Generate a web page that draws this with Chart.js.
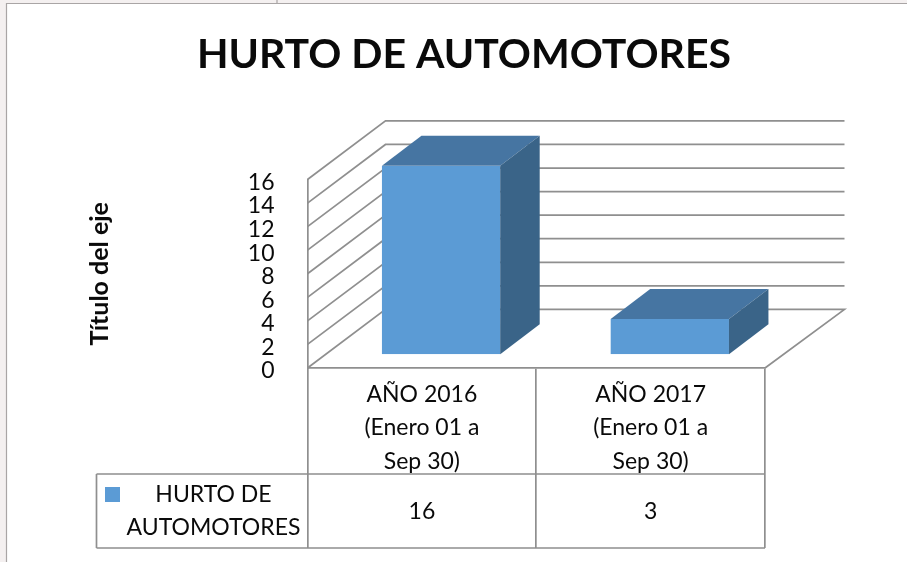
<!DOCTYPE html>
<html><head><meta charset="utf-8">
<script src="https://cdn.jsdelivr.net/npm/chart.js@4"></script>
<style>html,body{margin:0;padding:0;background:#fff}canvas{display:block}</style>
</head><body>
<div style="width:907px;height:562px"><canvas id="c" width="907" height="562"></canvas></div>
<script>
const chartTitle = "HURTO DE AUTOMOTORES";
const categories = [["AÑO 2016","(Enero 01 a","Sep 30)"],["AÑO 2017","(Enero 01 a","Sep 30)"]];
const seriesNameLines = ["HURTO DE","AUTOMOTORES"];
const seriesValues = [16,3];
const yTickStep = 2, yMax = 16;
const axisTitle = "Título del eje";

const FONT = "Lato, Carlito, sans-serif";
const TEXT = "#0a0a0a", LINE = "#8f8f8f";
const FRONT = "#5B9BD5", TOP = "#4675A2", SIDE = "#3A6488";
const WALL = {dx:78, dxRight:79.5, dy:-58.6}, BAR = {dx:19.2, dy:-13.7, ddx:39.5, ddy:-30};

const threeD = {
  id:"threeD",
  beforeDraw(ch){
    const c = ch.ctx;
    c.save();
    c.fillStyle="#f4f0f0"; c.fillRect(0,0,907,562);
    c.fillStyle="#fff"; c.fillRect(7,4,900,558);
    c.strokeStyle="#a9a5a5"; c.lineWidth=1.2;
    c.beginPath(); c.moveTo(6.5,562); c.lineTo(6.5,3.5); c.lineTo(907,3.5);
    c.moveTo(277,0); c.lineTo(277,3); c.stroke();
    c.restore();
  },
  beforeDatasetsDraw(ch){
    const c = ch.ctx, y = ch.scales.y, a = ch.chartArea;
    c.save(); c.strokeStyle=LINE; c.lineWidth=1.7;
    y.ticks.forEach(t=>{
      const p = y.getPixelForValue(t.value);
      c.beginPath(); c.moveTo(a.left,p); c.lineTo(a.left+WALL.dx,p+WALL.dy); c.lineTo(a.right+WALL.dxRight,p+WALL.dy);
      if(t.value===0) c.lineTo(a.right,p);
      c.stroke();
    });
    c.restore();
    c.save(); c.translate(BAR.dx,BAR.dy);
  },
  afterDatasetsDraw(ch){
    const c = ch.ctx;
    ch.getDatasetMeta(0).data.forEach(b=>{
      const l=b.x-b.width/2, r=b.x+b.width/2, t=b.y, bt=b.base, dx=BAR.ddx, dy=BAR.ddy;
      c.fillStyle=TOP; c.beginPath(); c.moveTo(l,t); c.lineTo(l+dx,t+dy); c.lineTo(r+dx,t+dy); c.lineTo(r,t); c.closePath(); c.fill();
      c.fillStyle=SIDE; c.beginPath(); c.moveTo(r,t); c.lineTo(r+dx,t+dy); c.lineTo(r+dx,bt+dy); c.lineTo(r,bt); c.closePath(); c.fill();
    });
    c.restore();
  },
  afterDraw(ch){
    const c = ch.ctx, x = ch.scales.x;
    const tTop=474, tBot=548, tLeft=96.5;
    c.save(); c.strokeStyle=LINE; c.lineWidth=1.7;
    c.beginPath(); c.moveTo(tLeft,tTop); c.lineTo(x.right,tTop); c.moveTo(tLeft,tBot); c.lineTo(x.right,tBot);
    c.moveTo(tLeft,tTop); c.lineTo(tLeft,tBot); c.stroke();
    c.fillStyle=TEXT; c.font="23px "+FONT; c.textAlign="center"; c.textBaseline="middle";
    seriesValues.forEach((v,i)=>c.fillText(String(v), x.getPixelForValue(i), 512));
    c.fillText(seriesNameLines[0],213.5,495); c.fillText(seriesNameLines[1],213.5,528);
    c.fillStyle=FRONT; c.fillRect(105,487,15,15);
    c.restore();
  }
};

new Chart(document.getElementById("c"),{
  type:"bar",
  data:{labels:categories,datasets:[{label:seriesNameLines.join(" "),data:seriesValues,backgroundColor:FRONT,borderWidth:0,
    categoryPercentage:1,barPercentage:0.517}]},
  plugins:[threeD],
  options:{
    responsive:false,animation:false,
    layout:{padding:{top:0,right:0,bottom:0,left:21}},
    plugins:{legend:{display:false},tooltip:{enabled:false},
      title:{display:true,text:chartTitle,color:TEXT,font:{family:FONT,size:41,weight:"bold",lineHeight:1},padding:{top:34,bottom:104.5}}},
    scales:{
      x:{
        afterFit(s){s.height=194;},
        grid:{offset:true,drawOnChartArea:false,color:LINE,lineWidth:1.7,tickLength:180,drawTicks:true},
        border:{display:true,color:LINE,width:1.8},
        ticks:{color:TEXT,font:{family:FONT,size:23,lineHeight:1.45},padding:-170,maxRotation:0,autoSkip:false}
      },
      y:{
        min:0,max:yMax,
        afterFit(s){s.width=286.5;},
        grid:{display:false},
        border:{display:true,color:LINE,width:1.7},
        ticks:{stepSize:yTickStep,color:TEXT,font:{family:FONT,size:23,lineHeight:"6px"},padding:25,autoSkip:false,
          callback:v=>["",String(v)]},
        title:{display:true,text:axisTitle,color:TEXT,font:{family:FONT,size:25,weight:"bold",lineHeight:1},padding:{top:66,bottom:0}}
      },
      rightGap:{
        type:"linear",position:"right",display:true,min:0,max:1,
        afterFit(s){s.width=142;},
        grid:{display:false},border:{display:false},ticks:{display:false}
      }
    }
  }
});
</script>
</body></html>
